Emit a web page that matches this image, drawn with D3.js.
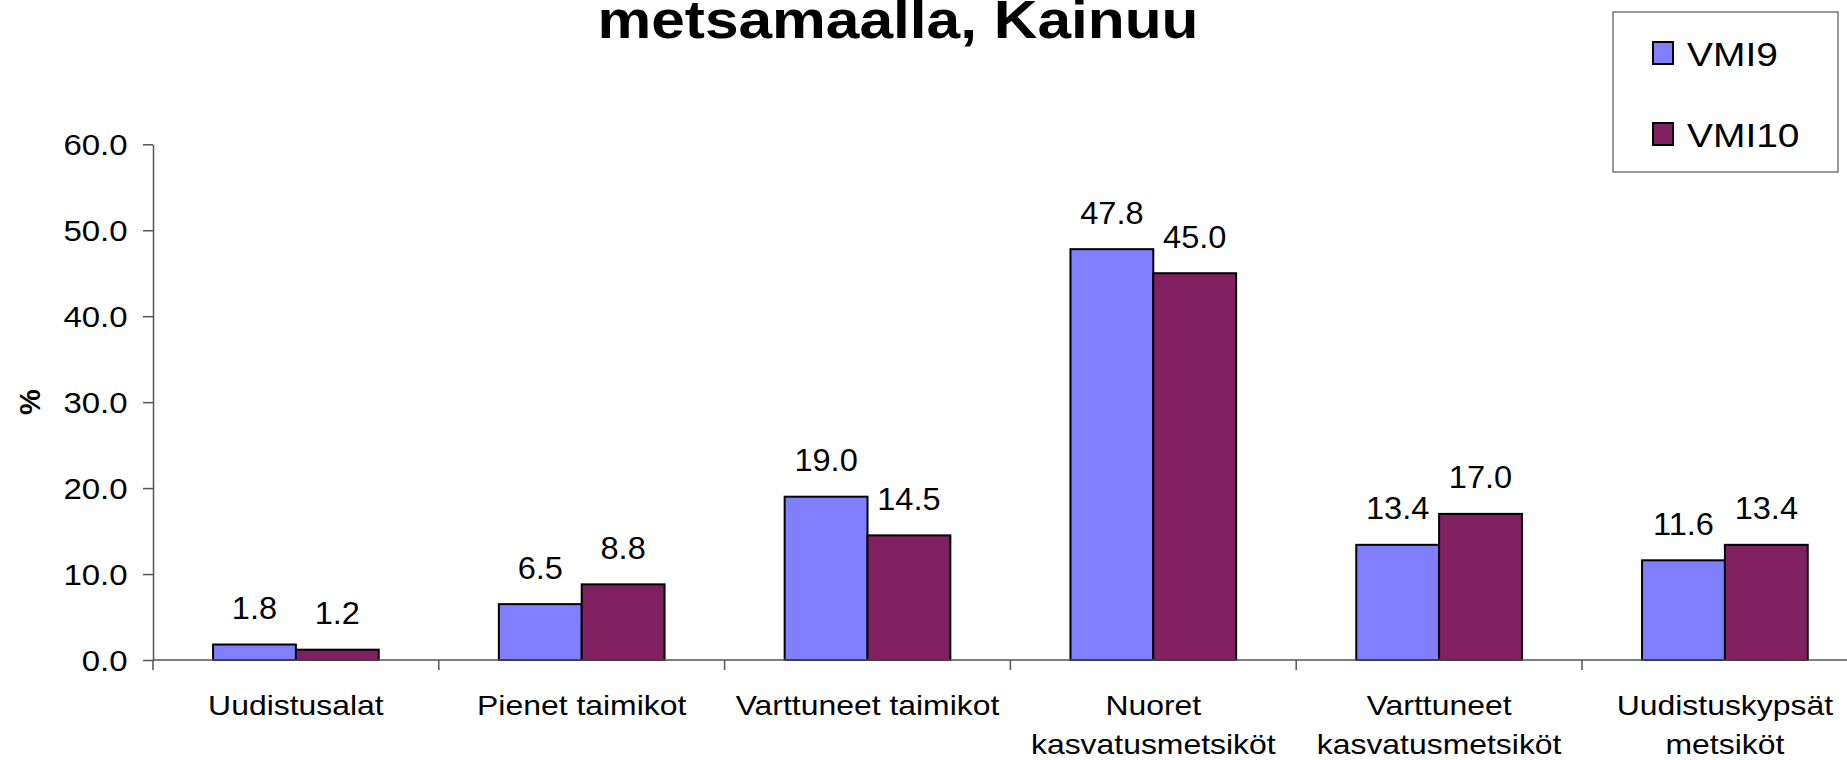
<!DOCTYPE html>
<html>
<head>
<meta charset="utf-8">
<script src="https://cdn.jsdelivr.net/npm/d3@7"></script>
<style>
  html, body { margin: 0; padding: 0; background: #fff; }
  svg { display: block; font-family: "Liberation Sans", Arial, sans-serif; }
</style>
</head>
<body>
<svg id="chart" width="1847" height="760"></svg>
<script>
// chart data
var categories = ["Uudistusalat", "Pienet taimikot", "Varttuneet taimikot",
                  "Nuoret\nkasvatusmetsiköt", "Varttuneet\nkasvatusmetsiköt", "Uudistuskypsät\nmetsiköt"];
var seriesNames = ["VMI9", "VMI10"];
var vmi9  = [1.8, 6.5, 19.0, 47.8, 13.4, 11.6];
var vmi10 = [1.2, 8.8, 14.5, 45.0, 17.0, 13.4];
var yTicks = [0, 10, 20, 30, 40, 50, 60];
var colors = ["#8080ff", "#802060"];
var titleText = "metsamaalla, Kainuu";

var svg = d3.select("#chart");

// plot area (the last group runs past the right edge, as in the original)
var plotLeft = 153, plotTop = 144.3, plotBottom = 660, step = 285.8;
var plotRight = plotLeft + step * categories.length;

var x0 = d3.scaleBand().domain(categories).range([plotLeft, plotRight]).padding(0);
var x1 = d3.scaleBand().domain(seriesNames).range([0, x0.bandwidth()])
    .paddingInner(0).paddingOuter(0.725);
var y = d3.scaleLinear().domain([0, 60]).range([plotBottom, plotTop]);

var rows = categories.map(function(c, i) { return { cat: c, vals: [vmi9[i], vmi10[i]] }; });

// title (first line is outside the picture)
svg.append("text")
  .attr("transform", "translate(898,38) scale(1.14,1)")
  .attr("text-anchor", "middle")
  .style("font-size", "53px").style("font-weight", "bold")
  .text(titleText);

// y axis
var yAxis = svg.append("g")
  .attr("transform", "translate(" + plotLeft + ",0)")
  .call(d3.axisLeft(y).tickValues(yTicks).tickFormat(d3.format(".1f"))
        .tickSizeInner(10).tickSizeOuter(0));
yAxis.select(".domain").attr("stroke", "#555").attr("stroke-width", 1.5);
yAxis.selectAll(".tick line").attr("stroke", "#555").attr("stroke-width", 1.5);
yAxis.selectAll(".tick text")
  .attr("x", -25.4 / 1.1).attr("dy", "0.35em")
  .attr("transform", "scale(1.1,1)")
  .attr("fill", "#000")
  .style("font-size", "30px").style("font-family", "Liberation Sans, Arial, sans-serif");

// y title
svg.append("text")
  .attr("transform", "translate(30," + ((plotTop + plotBottom) / 2) + ") rotate(-90)")
  .attr("text-anchor", "middle").attr("dy", "0.35em")
  .style("font-size", "29px").style("font-weight", "bold")
  .text("%");

// bars
var groups = svg.append("g").selectAll("g")
  .data(rows).enter().append("g")
  .attr("transform", function(d) { return "translate(" + x0(d.cat) + ",0)"; });

groups.selectAll("rect")
  .data(function(d) { return d.vals.map(function(v, j) { return { s: seriesNames[j], v: v, j: j }; }); })
  .enter().append("rect")
    .attr("x", function(d) { return x1(d.s); })
    .attr("y", function(d) { return y(d.v); })
    .attr("width", x1.bandwidth())
    .attr("height", function(d) { return y(0) - y(d.v); })
    .attr("fill", function(d) { return colors[d.j]; })
    .attr("stroke", "#000").attr("stroke-width", 2);

groups.selectAll("text.val")
  .data(function(d) { return d.vals.map(function(v, j) { return { s: seriesNames[j], v: v }; }); })
  .enter().append("text")
    .attr("class", "val")
    .attr("text-anchor", "middle")
    .attr("transform", function(d) {
      return "translate(" + (x1(d.s) + x1.bandwidth() / 2) + "," + (y(d.v) - 25.5) + ") scale(1.05,1)";
    })
    .style("font-size", "31px")
    .text(function(d) { return d3.format(".1f")(d.v); });

// x axis line and separator ticks at the category edges
svg.append("line")
  .attr("x1", plotLeft).attr("x2", plotRight).attr("y1", y(0)).attr("y2", y(0))
  .attr("stroke", "#555").attr("stroke-width", 1.5);
var edges = categories.map(function(c) { return x0(c); }).concat([plotRight]);
svg.append("g").selectAll("line")
  .data(edges).enter().append("line")
    .attr("x1", function(d) { return d; }).attr("x2", function(d) { return d; })
    .attr("y1", y(0)).attr("y2", y(0) + 10)
    .attr("stroke", "#555").attr("stroke-width", 1.5);

// category labels
var xl = svg.append("g").selectAll("text")
  .data(categories).enter().append("text")
    .attr("text-anchor", "middle")
    .attr("transform", function(d) { return "translate(" + (x0(d) + x0.bandwidth() / 2) + ",715) scale(1.12,1)"; })
    .style("font-size", "28.5px");
xl.selectAll("tspan")
  .data(function(d) { return d.split("\n"); })
  .enter().append("tspan")
    .attr("x", 0)
    .attr("dy", function(d, i) { return i === 0 ? 0 : 39; })
    .text(function(d) { return d; });

// legend
var lg = svg.append("g");
lg.append("rect")
  .attr("x", 1613).attr("y", 12).attr("width", 225).attr("height", 160)
  .attr("fill", "#fff").attr("stroke", "#555").attr("stroke-width", 1.2);
var li = lg.selectAll("g.item")
  .data(seriesNames).enter().append("g")
  .attr("class", "item")
  .attr("transform", function(d, i) { return "translate(1653," + (42 + i * 81) + ")"; });
li.append("rect")
  .attr("width", 20).attr("height", 22)
  .attr("fill", function(d, i) { return colors[i]; })
  .attr("stroke", "#000").attr("stroke-width", 2);
li.append("text")
  .attr("transform", "translate(34,24) scale(1.18,1)")
  .style("font-size", "33px")
  .text(function(d) { return d; });
</script>
</body>
</html>
